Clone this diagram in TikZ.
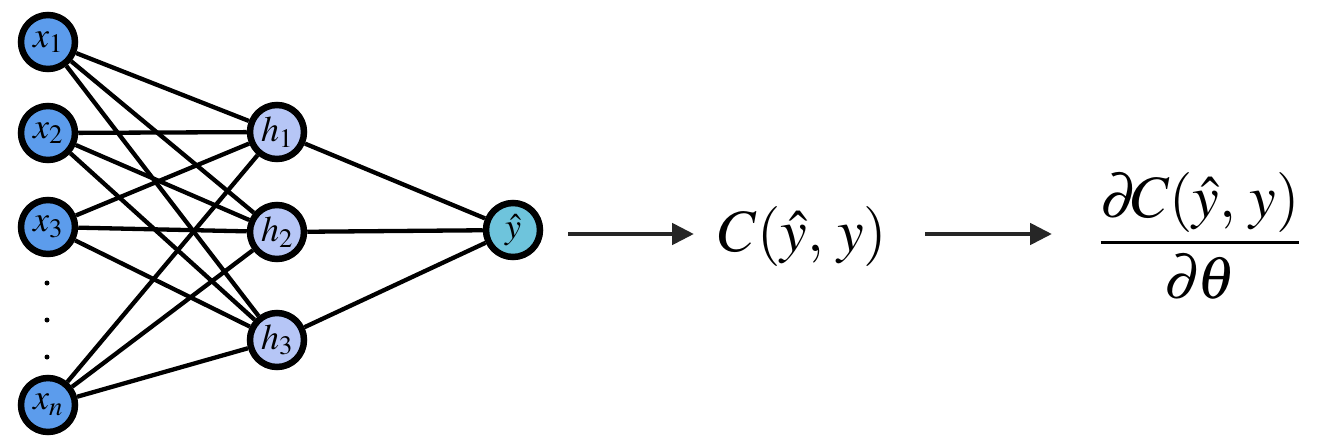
\documentclass[tikz,border=0pt]{standalone}
\usepackage{mathptmx}
\usetikzlibrary{arrows.meta,backgrounds}
\definecolor{inblue}{RGB}{92,156,236}
\definecolor{hidblue}{RGB}{182,198,246}
\definecolor{outcyan}{RGB}{110,196,220}
\tikzset{
  neuron/.style={circle,draw=black,line width=6.5pt,minimum size=54pt,inner sep=0pt,font=\fontsize{36}{40}\selectfont},
  inneuron/.style={neuron,fill=inblue},
  hidneuron/.style={neuron,fill=hidblue},
  outneuron/.style={neuron,fill=outcyan},
  wire/.style={line width=4.3pt,black},
  flow/.style={line width=4.8pt,black!85,-{Triangle[length=22pt,width=21pt]}},
  bigmath/.style={font=\fontsize{60}{66}\selectfont,inner sep=0pt}
}
\begin{document}
\begin{tikzpicture}[x=1pt,y=-1pt]
\useasboundingbox (0,0) rectangle (1324,442);
\node[inneuron] (x1) at (48,42) {$x_1$};
\node[inneuron] (x2) at (48,133) {$x_2$};
\node[inneuron] (x3) at (48,227) {$x_3$};
\node[inneuron] (xn) at (48,405) {$x_n$};
\node[hidneuron] (h1) at (277,132) {$h_1$};
\node[hidneuron] (h2) at (277,232) {$h_2$};
\node[hidneuron] (h3) at (277,340) {$h_3$};
\node[outneuron] (y) at (513,230) {$\hat{y}$};
\foreach \i in {1,2,3}{\fill (47,{283+(\i-1)*37}) circle (2.5pt);}
\begin{scope}[on background layer]
\fill[white] (0,0) rectangle (1324,442);
\foreach \a in {x1,x2,x3,xn}{
  \foreach \b in {h1,h2,h3}{
    \draw[wire] (\a) -- (\b);
  }
}
\foreach \b in {h1,h2,h3}{\draw[wire] (\b) -- (y);}
\end{scope}
\node[bigmath] (C) at (803,236) {$C(\hat{y},\,y)$};
\node[bigmath] (G) at (1200,236) {$\displaystyle\frac{\partial\mkern-2mu C(\hat{y},\,y)}{\partial\mkern-1mu\theta}$};
\coordinate (a1s) at (568,234);
\coordinate (a2s) at (925,234);
\coordinate (a1e) at (694,234);
\coordinate (a2e) at (1052,234);
\draw[flow] (a1s) -- (a1e);
\draw[flow] (a2s) -- (a2e);
\end{tikzpicture}
\end{document}
